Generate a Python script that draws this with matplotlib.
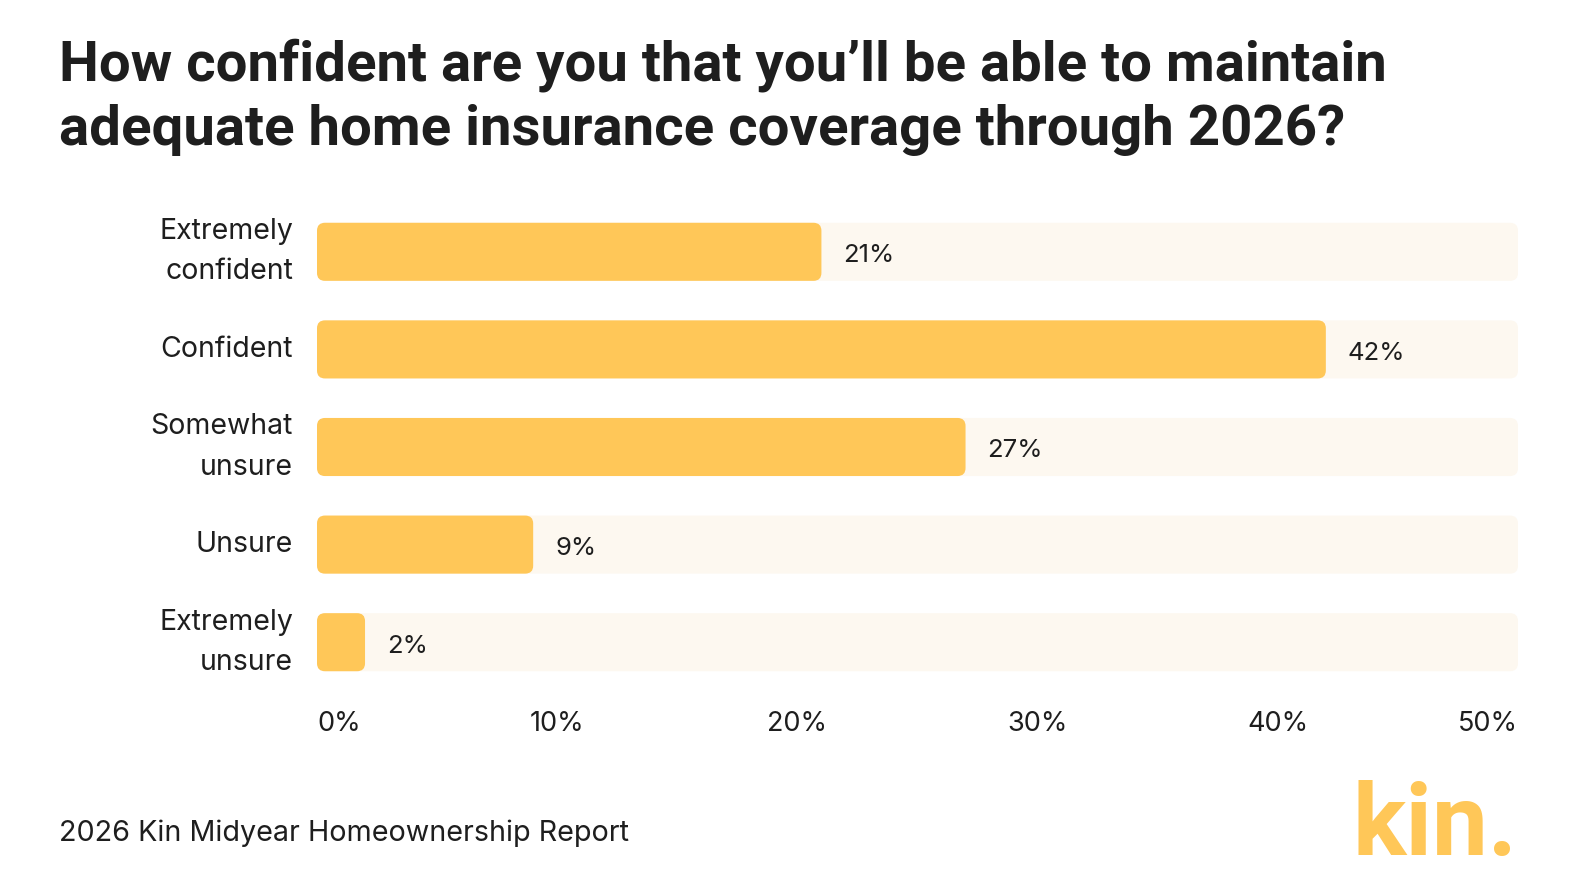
import matplotlib
matplotlib.use("Agg")
import matplotlib.pyplot as plt
from matplotlib.patches import FancyBboxPatch

# data
categories = ["Extremely\nconfident", "Confident", "Somewhat\nunsure", "Unsure", "Extremely\nunsure"]
values = [21, 42, 27, 9, 2]
value_labels = ["21%", "42%", "27%", "9%", "2%"]
ticks = [0, 10, 20, 30, 40, 50]
tick_labels = ["0%", "10%", "20%", "30%", "40%", "50%"]

title = "How confident are you that you\u2019ll be able to maintain\nadequate home insurance coverage through 2026?"
source = "2026 Kin Midyear Homeownership Report"

BAR = "#FFC758"
TRACK = "#FDF8F0"
INK = "#1E1E1E"

W, H = 1589, 891
fig = plt.figure(figsize=(W / 100, H / 100), dpi=100)
fig.patch.set_facecolor("white")

# axes in pixel terms of the reference
left, right = 317, 1518
top, bottom = 203, 691
ax = fig.add_axes([left / W, 1 - bottom / H, (right - left) / W, (bottom - top) / H])
ax.set_xlim(0, 50)
ax.set_ylim(len(categories) - 0.5, -0.5)
ax.axis("off")

px_x = (right - left) / 50.0
px_y = (bottom - top) / len(categories)
aspect = px_x / px_y
bar_h = 0.595
r = 8 / px_x

for i, (cat, v, lab) in enumerate(zip(categories, values, value_labels)):
    track = FancyBboxPatch((0, i - bar_h / 2), 50, bar_h,
                           boxstyle=f"round,pad=0,rounding_size={r}",
                           mutation_aspect=aspect, fc=TRACK, ec="none")
    ax.add_patch(track)
    bar = FancyBboxPatch((0, i - bar_h / 2), v, bar_h,
                         boxstyle=f"round,pad=0,rounding_size={r}",
                         mutation_aspect=aspect, fc=BAR, ec="none")
    ax.add_patch(bar)
    ax.text(v + 22 / px_x, i + 0.04, lab, ha="left", va="center",
            fontsize=18.5, color=INK, family="Inter")
    ax.text(-24 / px_x, i, cat, ha="right", va="center", fontsize=20.5,
            color=INK, family="Inter", linespacing=1.62)

# x tick labels, spread like the original
for t, tl in zip(ticks, tick_labels):
    ha = "left" if t == ticks[0] else ("right" if t == ticks[-1] else "center")
    ax.text(t, len(categories) - 0.5 + 33 / px_y, tl, ha=ha, va="center",
            fontsize=19.5, color=INK, family="Inter")

fig.text(59 / W, 1 - 38 / H, title, ha="left", va="top", fontsize=40.6,
         fontweight="bold", color=INK, family="Roboto", linespacing=1.3)
fig.text(59 / W, 1 - 833 / H, source, ha="left", va="center", fontsize=20.7,
         color=INK, family="Inter")
fig.text(1518 / W, 1 - 855 / H, "kin.", ha="right", va="baseline", fontsize=72,
         fontweight="bold", color=BAR, family="Roboto")

fig.savefig("out.png", dpi=100, facecolor="white")
